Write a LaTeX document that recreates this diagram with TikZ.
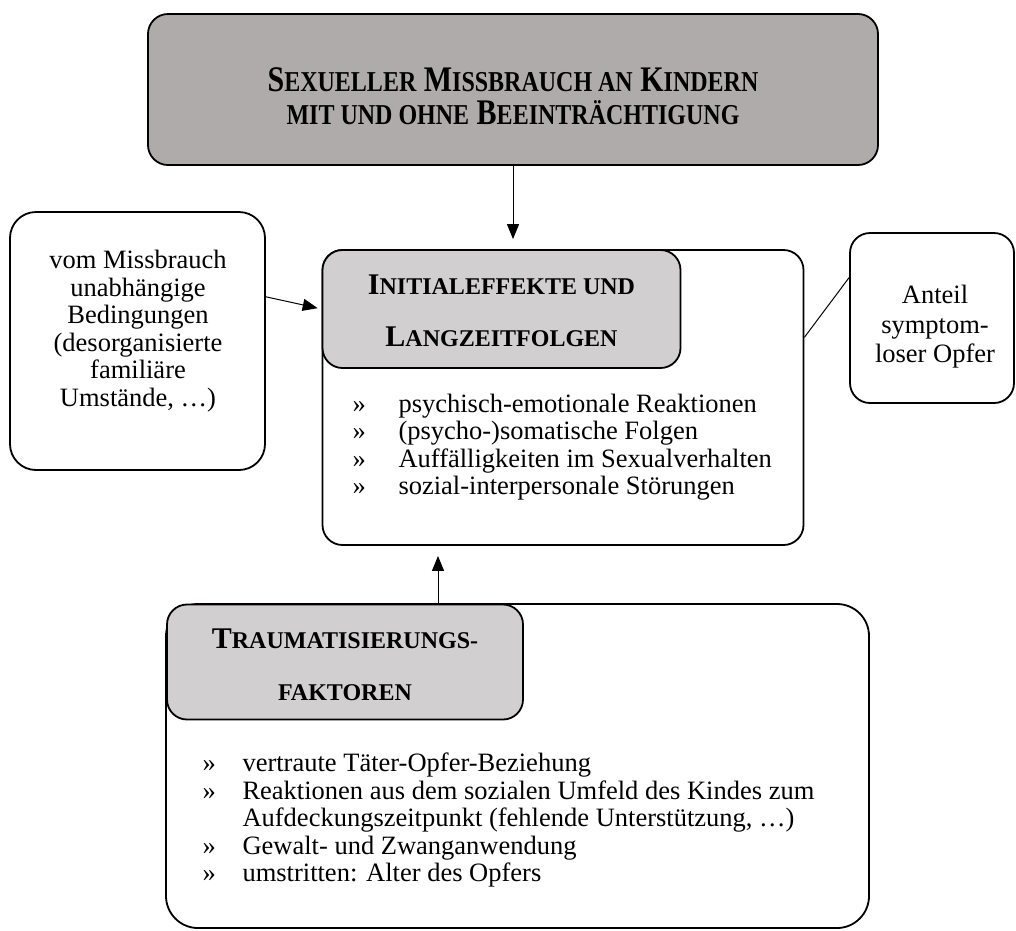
\documentclass[tikz,border=0pt]{standalone}
\usepackage{fontspec}
\setmainfont{Liberation Serif}
\usetikzlibrary{arrows.meta}

\definecolor{topgray}{RGB}{175,171,171}
\definecolor{headgray}{RGB}{209,207,207}
\newcommand{\bodysize}{\fontsize{26.5}{27.5}\selectfont}
\newcommand{\smc}[1]{{\fontsize{24}{24}\selectfont #1}}

\begin{document}
\begin{tikzpicture}[x=1pt, y=-1pt,
    box/.style={draw, line width=1.8pt, rounded corners=20pt, inner sep=0pt},
    head/.style={box, fill=headgray, align=center, font=\fontsize{30}{52}\selectfont\bfseries},
    arrow/.style={-{Triangle[length=15pt,width=12pt]}, line width=1pt},
    every node/.append style={font=\bodysize}]

        \useasboundingbox (0, 0) rectangle (1016, 930);

        % top box
        \node[name=abuse, box, fill=topgray, minimum width=730pt, minimum height=151pt] at (513, 89.5) {};
        \node[name=abuse_text, align=center, font=\fontsize{30}{25}\selectfont\bfseries] at (513, 101)
            {\scalebox{1}[1.2]{\begin{tabular}{@{}c@{}}S\smc{EXUELLER} M\smc{ISSBRAUCH AN} K\smc{INDERN}\\ \smc{MIT UND OHNE} B\smc{EEINTRÄCHTIGUNG}\end{tabular}}};

        % effects
        \node[name=effects, box, minimum width=481pt, minimum height=295pt] at (563, 397.5) {};
        \node[name=effects_head, head, minimum width=358pt, minimum height=118pt] at (501.5, 309) {};
        \node[name=effects_title, head, draw=none, fill=none] at (501.5, 311)
            {I\smc{NITIALEFFEKTE UND}\\ L\smc{ANGZEITFOLGEN}};
        \node[name=effects_list, anchor=west] at (349, 448)
            {\begin{tabular}{@{}p{46pt}@{}l@{}}
                » & psychisch-emotionale Reaktionen\\
                » & (psycho-)somatische Folgen\\
                » & Auffälligkeiten im Sexualverhalten\\
                » & sozial-interpersonale Störungen
            \end{tabular}};

        % side boxes
        \node[name=family, box, rounded corners=26pt, minimum width=255pt, minimum height=258pt] at (137.5, 341) {};
        \node[name=family_text, align=center] at (138, 331)
            {vom Missbrauch\\ unabhängige\\ Bedingungen\\ (desorganisierte\\ familiäre\\ Umstände, …)};
        \node[name=symptomless, box, minimum width=164pt, minimum height=170pt] at (932, 318) {};
        \node[name=symptomless_text, align=center, font=\fontsize{26.5}{29.5}\selectfont] at (935, 327)
            {Anteil\\ symptom-\\ loser Opfer};

        % trauma factors
        \node[name=trauma, box, rounded corners=32pt, minimum width=703pt, minimum height=324pt] at (517.5, 766) {};
        \node[name=trauma_head, head, minimum width=356pt, minimum height=115pt] at (345, 662) {};
        \node[name=trauma_title, head, draw=none, fill=none] at (345, 665)
            {T\smc{RAUMATISIERUNGS-}\\ \smc{FAKTOREN}};
        \node[name=trauma_list, anchor=west] at (199, 821)
            {\begin{tabular}{@{}p{40pt}@{}l@{}}
                » & vertraute Täter-Opfer-Beziehung\\
                » & Reaktionen aus dem sozialen Umfeld des Kindes zum\\
                  & Aufdeckungszeitpunkt (fehlende Unterstützung, …)\\
                » & Gewalt- und Zwanganwendung\\
                » & umstritten: Alter des Opfers
            \end{tabular}};
        \coordinate (trauma_out) at (438, 604);

        \draw[arrow] (abuse.south) -- ([yshift=10pt]abuse.south |- effects.north);
        \draw[arrow, shorten >=4pt] (family.19) -- (effects_head.west);
        \draw[line width=1pt] (effects.14) -- (symptomless.154);
        \draw[arrow] (trauma_out) -- ([yshift=-10pt]trauma_out |- effects.south);
    \end{tikzpicture}
\end{document}
